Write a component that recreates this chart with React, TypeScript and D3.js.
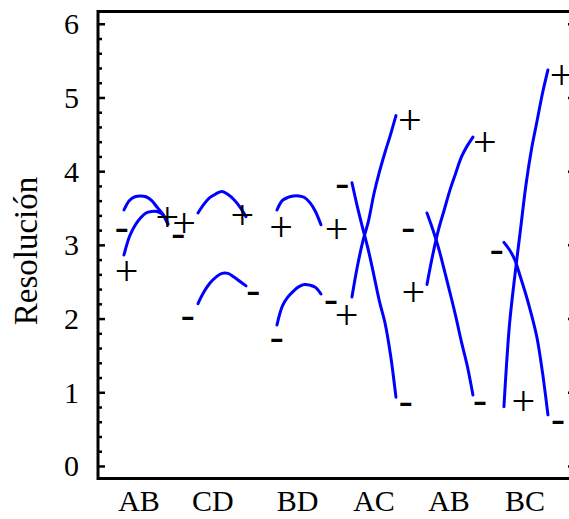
import React, { useEffect } from "react";
import * as d3 from "d3";

const W = 569;
const H = 519;

// group (interaction) names and where their names sit on the x axis (x units)
const groupNames = ["AB", "CD", "BD", "AC", "AB", "BC"];
const groupNameX = [0.553, 1.526, 2.638, 3.645, 4.632, 5.632];
// x extent of each group's factor range (-1 .. +1), in x units
const groupXStart = [0.355, 1.329, 2.368, 3.355, 4.342, 5.355];
const groupXEnd = [0.934, 1.961, 2.947, 3.934, 4.947, 5.934];

// response at 9 evenly spaced factor levels (-1 .. +1), two lines per group
const lineOne = [
  [3.48, 3.61, 3.66, 3.67, 3.66, 3.61, 3.52, 3.43, 3.29],
  [3.44, 3.56, 3.65, 3.7, 3.73, 3.69, 3.62, 3.52, 3.39],
  [3.48, 3.61, 3.65, 3.67, 3.67, 3.65, 3.58, 3.46, 3.28],
  [2.3, 2.72, 3.06, 3.33, 3.7, 4.0, 4.26, 4.5, 4.76],
  [2.47, 2.87, 3.21, 3.48, 3.75, 3.98, 4.2, 4.35, 4.47],
  [0.81, 1.92, 2.6, 3.21, 3.82, 4.3, 4.68, 5.06, 5.38],
];
const lineTwo = [
  [2.87, 3.12, 3.27, 3.37, 3.44, 3.46, 3.46, 3.42, 3.29],
  [2.21, 2.37, 2.49, 2.57, 2.62, 2.62, 2.57, 2.51, 2.45],
  [1.92, 2.18, 2.3, 2.38, 2.44, 2.47, 2.46, 2.43, 2.34],
  [3.85, 3.52, 3.22, 2.93, 2.59, 2.24, 1.95, 1.52, 0.94],
  [3.44, 3.22, 2.97, 2.67, 2.36, 2.04, 1.69, 1.37, 0.97],
  [3.04, 2.94, 2.8, 2.57, 2.33, 2.06, 1.75, 1.28, 0.7],
];

// level markers ("+" / "-") placed at the line ends
const markSign = [
  "-", "+", "+", "-",
  "+", "-", "+", "-",
  "+", "-", "+", "-",
  "-", "+", "+", "-",
  "-", "+", "+", "-",
  "-", "+", "+", "-",
];
const markX = [
  0.325, 0.391, 0.925, 1.07,
  1.145, 1.193, 1.912, 2.057,
  2.421, 2.364, 3.154, 3.079,
  3.228, 3.286, 4.118, 4.062,
  4.096, 4.162, 5.105, 5.04,
  5.259, 5.609, 6.114, 6.066,
];
const markY = [
  3.2, 2.61, 3.34, 3.12,
  3.26, 2.01, 3.37, 2.34,
  3.21, 1.71, 3.17, 2.22,
  3.8, 2.01, 4.66, 0.84,
  3.2, 2.32, 4.35, 0.85,
  2.9, 0.84, 5.27, 0.59,
];

const yTickValues = [0, 1, 2, 3, 4, 5, 6];
const yTickLabels = ["0", "1", "2", "3", "4", "5", "6"];
const yLabel = "Resolución";

const FONT = "Liberation Serif";

export default function App() {
  useEffect(() => {
    document.body.style.margin = "0";
  }, []);

  const left = 98;
  const right = 575;
  const top = 11.5;
  const bottom = 478.5;

  const x = d3.scaleLinear().domain([0, 6.29]).range([97, 575]);
  const y = d3.scaleLinear().domain([-0.17, 6.18]).range([479, 11]);

  const minorTicks = d3.range(0, 31).map((i) => i * 0.2).filter((v) => v <= 6.1);

  const line = d3
    .line<[number, number]>()
    .x((d) => x(d[0]))
    .y((d) => y(d[1]))
    .curve(d3.curveCatmullRom.alpha(0.5));

  const toPoints = (gi: number, vals: number[]): [number, number][] => {
    const lv = d3.scaleLinear().domain([0, vals.length - 1]).range([groupXStart[gi], groupXEnd[gi]]);
    return vals.map((v, i) => [lv(i), v]);
  };

  const ts: React.CSSProperties = { fontFamily: FONT };

  return (
    <svg width={W} height={H} style={{ display: "block", background: "#fff" }}>
      <rect x={0} y={0} width={W} height={H} fill="#fff" />
      {groupNames.map((_, gi) => (
        <g key={"g" + gi}>
          <path d={line(toPoints(gi, lineOne[gi])) || ""} fill="none" stroke="#0000ff" strokeWidth={3} strokeLinejoin="round" strokeLinecap="round" />
          <path d={line(toPoints(gi, lineTwo[gi])) || ""} fill="none" stroke="#0000ff" strokeWidth={3} strokeLinejoin="round" strokeLinecap="round" />
        </g>
      ))}
      {markSign.map((s, i) => (
        <text
          key={"m" + i}
          x={x(markX[i])}
          y={y(markY[i])}
          dy={s === "+" ? "0.253em" : "0.225em"}
          textAnchor="middle"
          fontSize={42}
          fill="#000"
          style={ts}
        >
          {s}
        </text>
      ))}
      <rect x={left} y={top} width={right - left} height={bottom - top} fill="none" stroke="#000" strokeWidth={3} />
      {minorTicks.map((v, i) => {
        const major = Math.abs(v - Math.round(v)) < 1e-6;
        const len = major ? 7 : 4;
        return (
          <g key={"t" + i}>
            <line x1={left} x2={left + len} y1={y(v)} y2={y(v)} stroke="#000" strokeWidth={2.5} />
            <line x1={right} x2={right - len} y1={y(v)} y2={y(v)} stroke="#000" strokeWidth={2.5} />
          </g>
        );
      })}
      {yTickValues.map((v, i) => (
        <text
          key={"yl" + i}
          x={79}
          y={y(v) + 10}
          textAnchor="end"
          fontSize={30}
          fill="#000"
          style={ts}
        >
          {yTickLabels[i]}
        </text>
      ))}
      {groupNames.map((n, i) => (
        <text
          key={"xl" + i}
          x={x(groupNameX[i])}
          y={511}
          textAnchor="middle"
          fontSize={30}
          fill="#000"
          style={ts}
        >
          {n}
        </text>
      ))}
      <text
        transform={`translate(37,251) rotate(-90)`}
        textAnchor="middle"
        fontSize={33}
        fill="#000"
        style={ts}
      >
        {yLabel}
      </text>
    </svg>
  );
}
